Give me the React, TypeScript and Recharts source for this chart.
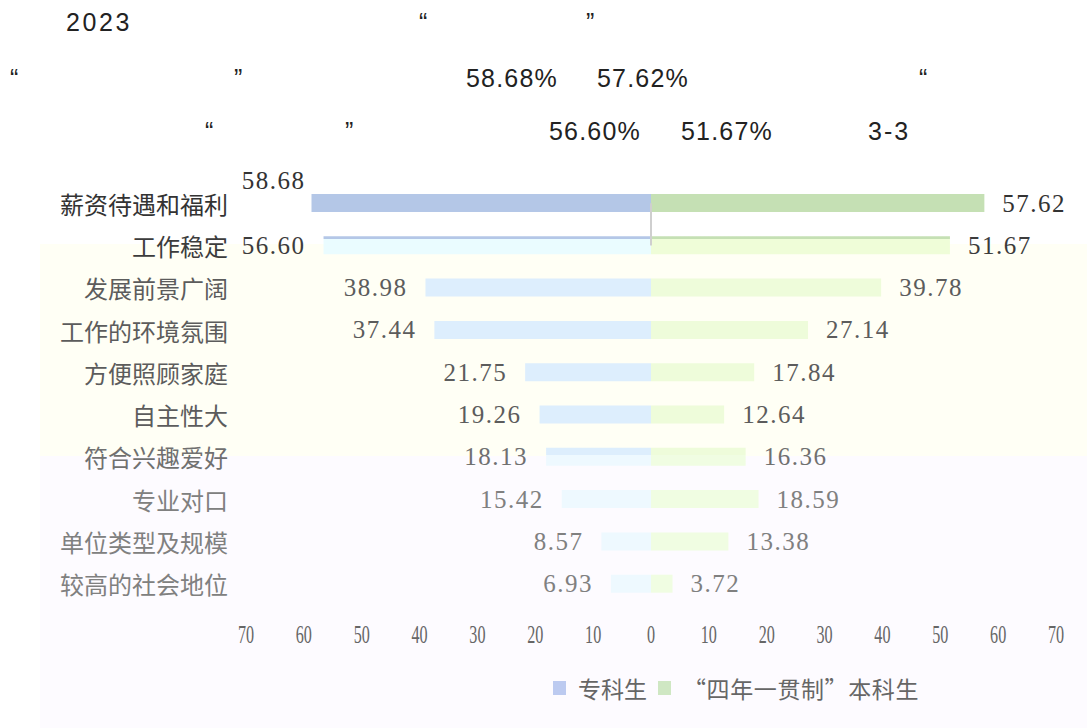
import { BarChart, Bar, XAxis, YAxis, Cell, LabelList, ReferenceLine } from "recharts";

const categories = [
    "薪资待遇和福利",
    "工作稳定",
    "发展前景广阔",
    "工作的环境氛围",
    "方便照顾家庭",
    "自主性大",
    "符合兴趣爱好",
    "专业对口",
    "单位类型及规模",
    "较高的社会地位",
];
const juniorValues = [58.68, 56.6, 38.98, 37.44, 21.75, 19.26, 18.13, 15.42, 8.57, 6.93];
const bachelorValues = [57.62, 51.67, 39.78, 27.14, 17.84, 12.64, 16.36, 18.59, 13.38, 3.72];
const seriesNames = ["专科生", "“四年一贯制”本科生"];
const axisTicks = [-70, -60, -50, -40, -30, -20, -10, 0, 10, 20, 30, 40, 50, 60, 70];

// the scan is washed out below the second row, so colours fade row by row
const leftFills = ["#b4c7e7", "url(#leftFade)", "#ddeefd", "#ddeefd", "#ddeefd", "#ddeefd", "url(#leftSplit)", "#eef9ff", "#eef9ff", "#eef9ff"];
const rightFills = ["#c5e0b4", "url(#rightFade)", "#eefcda", "#eefcda", "#eefcda", "#eefcda", "url(#rightSplit)", "#f0fde2", "#f0fde2", "#f0fde2"];
const rowText = ["#333", "#3c3c3c", "#5c5c5c", "#5c5c5c", "#5c5c5c", "#5c5c5c", "#707070", "#808080", "#808080", "#808080"];

const data = categories.map((name, i) => ({
    name,
    junior: -juniorValues[i],
    bachelor: bachelorValues[i],
}));

const serif = "'Liberation Serif', 'DejaVu Serif', serif";
const cjk = "'Noto Sans CJK SC', sans-serif";

function CategoryTick(props: any) {
    const { x, y, payload } = props;
    const i = categories.indexOf(payload.value);
    return (
        <text x={Number(x) - 18} y={Number(y)} textAnchor="end" dominantBaseline="central"
            fill={rowText[i]} fontSize={24} fontFamily={cjk}>
            {payload.value}
        </text>
    );
}

function ValueTick(props: any) {
    const { x, y, payload } = props;
    return (
        <g transform={`translate(${x},${Number(y) + 30}) scale(0.62,1)`}>
            <text x={0} y={0} textAnchor="middle" dominantBaseline="central" fill="#666"
                fontSize={26} fontFamily={serif}>
                {Math.abs(payload.value)}
            </text>
        </g>
    );
}

const leftLabel = (props: any) => {
    const x = Number(props.x), y = Number(props.y);
    const width = Number(props.width), height = Number(props.height);
    const left = Math.min(x, x + width);
    const text = Math.abs(Number(props.value)).toFixed(2);
    const w = text.length * 12.8;
    let tx = left - 18;
    let ty = y + height / 2;
    // no room beside the category name: lift it above the bar
    if (tx - w < 236) {
        tx = left - 6;
        ty = ty - 23;
    }
    return (
        <text x={tx} y={ty} textAnchor="end" dominantBaseline="central" fill={rowText[props.index]}
            fontSize={25} letterSpacing={1.5} fontFamily={serif}>
            {text}
        </text>
    );
};

const rightLabel = (props: any) => {
    const x = Number(props.x), y = Number(props.y);
    const width = Number(props.width), height = Number(props.height);
    const right = Math.max(x, x + width);
    const text = Number(props.value).toFixed(2);
    return (
        <text x={right + 18} y={y + height / 2} textAnchor="start" dominantBaseline="central"
            fill={rowText[props.index]} fontSize={25} letterSpacing={1.5} fontFamily={serif}>
            {text}
        </text>
    );
};

const headStyle: React.CSSProperties = {
    position: "absolute",
    fontFamily: "'Liberation Sans', Arial, sans-serif",
    fontSize: 25,
    lineHeight: "26px",
    letterSpacing: 1.2,
    color: "#222",
    whiteSpace: "nowrap",
};

export default function App() {
    return (
        <div style={{ position: "absolute", left: 0, top: 0, width: 1087, height: 728, background: "#fff", overflow: "hidden" }}>
            {/* washed regions of the scan */}
            <div style={{ position: "absolute", left: 40, top: 244, width: 1047, height: 212, background: "#fffff5" }} />
            <div style={{ position: "absolute", left: 40, top: 456, width: 1047, height: 272, background: "#fdfbff" }} />

            {/* heading fragments that survived */}
            <span style={{ ...headStyle, left: 66, top: 9, letterSpacing: 2.6 }}>2023</span>
            <span style={{ ...headStyle, left: 419, top: 9 }}>“</span>
            <span style={{ ...headStyle, left: 586, top: 9 }}>”</span>
            <span style={{ ...headStyle, left: 10, top: 65 }}>“</span>
            <span style={{ ...headStyle, left: 234, top: 65 }}>”</span>
            <span style={{ ...headStyle, left: 466, top: 65 }}>58.68%</span>
            <span style={{ ...headStyle, left: 597, top: 65 }}>57.62%</span>
            <span style={{ ...headStyle, left: 919, top: 65 }}>“</span>
            <span style={{ ...headStyle, left: 205, top: 118 }}>“</span>
            <span style={{ ...headStyle, left: 345, top: 118 }}>”</span>
            <span style={{ ...headStyle, left: 549, top: 118 }}>56.60%</span>
            <span style={{ ...headStyle, left: 681, top: 118 }}>51.67%</span>
            <span style={{ ...headStyle, left: 868, top: 118, letterSpacing: 2 }}>3-3</span>

            <div style={{ position: "absolute", left: 0, top: 0 }}>
                <BarChart
                    width={1087}
                    height={728}
                    data={data}
                    layout="vertical"
                    stackOffset="sign"
                    margin={{ top: 182, right: 31, bottom: 83, left: 0 }}
                    barSize={18}
                >
                    <defs>
                        <linearGradient id="leftFade" x1="0" y1="0" x2="0" y2="1">
                            <stop offset="0" stopColor="#b4c7e7" />
                            <stop offset="0.16" stopColor="#b4c7e7" />
                            <stop offset="0.16" stopColor="#eafcff" />
                            <stop offset="1" stopColor="#eafcff" />
                        </linearGradient>
                        <linearGradient id="rightFade" x1="0" y1="0" x2="0" y2="1">
                            <stop offset="0" stopColor="#c5e0b4" />
                            <stop offset="0.16" stopColor="#c5e0b4" />
                            <stop offset="0.16" stopColor="#effdd8" />
                            <stop offset="1" stopColor="#effdd8" />
                        </linearGradient>
                        <linearGradient id="leftSplit" x1="0" y1="0" x2="0" y2="1">
                            <stop offset="0" stopColor="#ddeefd" />
                            <stop offset="0.4" stopColor="#ddeefd" />
                            <stop offset="0.4" stopColor="#eef9ff" />
                            <stop offset="1" stopColor="#eef9ff" />
                        </linearGradient>
                        <linearGradient id="rightSplit" x1="0" y1="0" x2="0" y2="1">
                            <stop offset="0" stopColor="#eefcda" />
                            <stop offset="0.4" stopColor="#eefcda" />
                            <stop offset="0.4" stopColor="#f0fde2" />
                            <stop offset="1" stopColor="#f0fde2" />
                        </linearGradient>
                    </defs>
                    <XAxis
                        type="number"
                        domain={[-70, 70]}
                        ticks={axisTicks}
                        interval={0}
                        axisLine={false}
                        tickLine={false}
                        tickSize={0}
                        tickMargin={0}
                        height={40}
                        tick={<ValueTick />}
                    />
                    <YAxis
                        type="category"
                        dataKey="name"
                        width={246}
                        axisLine={false}
                        tickLine={false}
                        tickSize={0}
                        tickMargin={0}
                        interval={0}
                        tick={<CategoryTick />}
                    />
                    <Bar dataKey="junior" name={seriesNames[0]} stackId="a" isAnimationActive={false}>
                        {data.map((d, i) => (
                            <Cell key={d.name} fill={leftFills[i]} />
                        ))}
                        <LabelList dataKey="junior" content={leftLabel} />
                    </Bar>
                    <Bar dataKey="bachelor" name={seriesNames[1]} stackId="a" isAnimationActive={false}>
                        {data.map((d, i) => (
                            <Cell key={d.name} fill={rightFills[i]} />
                        ))}
                        <LabelList dataKey="bachelor" content={rightLabel} />
                    </Bar>
                    <ReferenceLine
                        segment={[{ x: 0, y: categories[0] }, { x: 0, y: categories[1] }]}
                        stroke="#cfcfcf"
                        strokeWidth={2}
                    />
                </BarChart>
            </div>

            {/* legend */}
            <div style={{ position: "absolute", left: 553, top: 671, display: "flex", alignItems: "center", fontFamily: cjk, fontSize: 23, color: "#666", whiteSpace: "nowrap" }}>
                <span style={{ display: "inline-block", width: 13, height: 14, background: "#bccaf0", marginRight: 12 }} />
                <span style={{ marginRight: 11 }}>{seriesNames[0]}</span>
                <span style={{ display: "inline-block", width: 13, height: 14, background: "#cfe7c3", marginRight: 12 }} />
                <span style={{ letterSpacing: 0.6 }}>{seriesNames[1]}</span>
            </div>
        </div>
    );
}
